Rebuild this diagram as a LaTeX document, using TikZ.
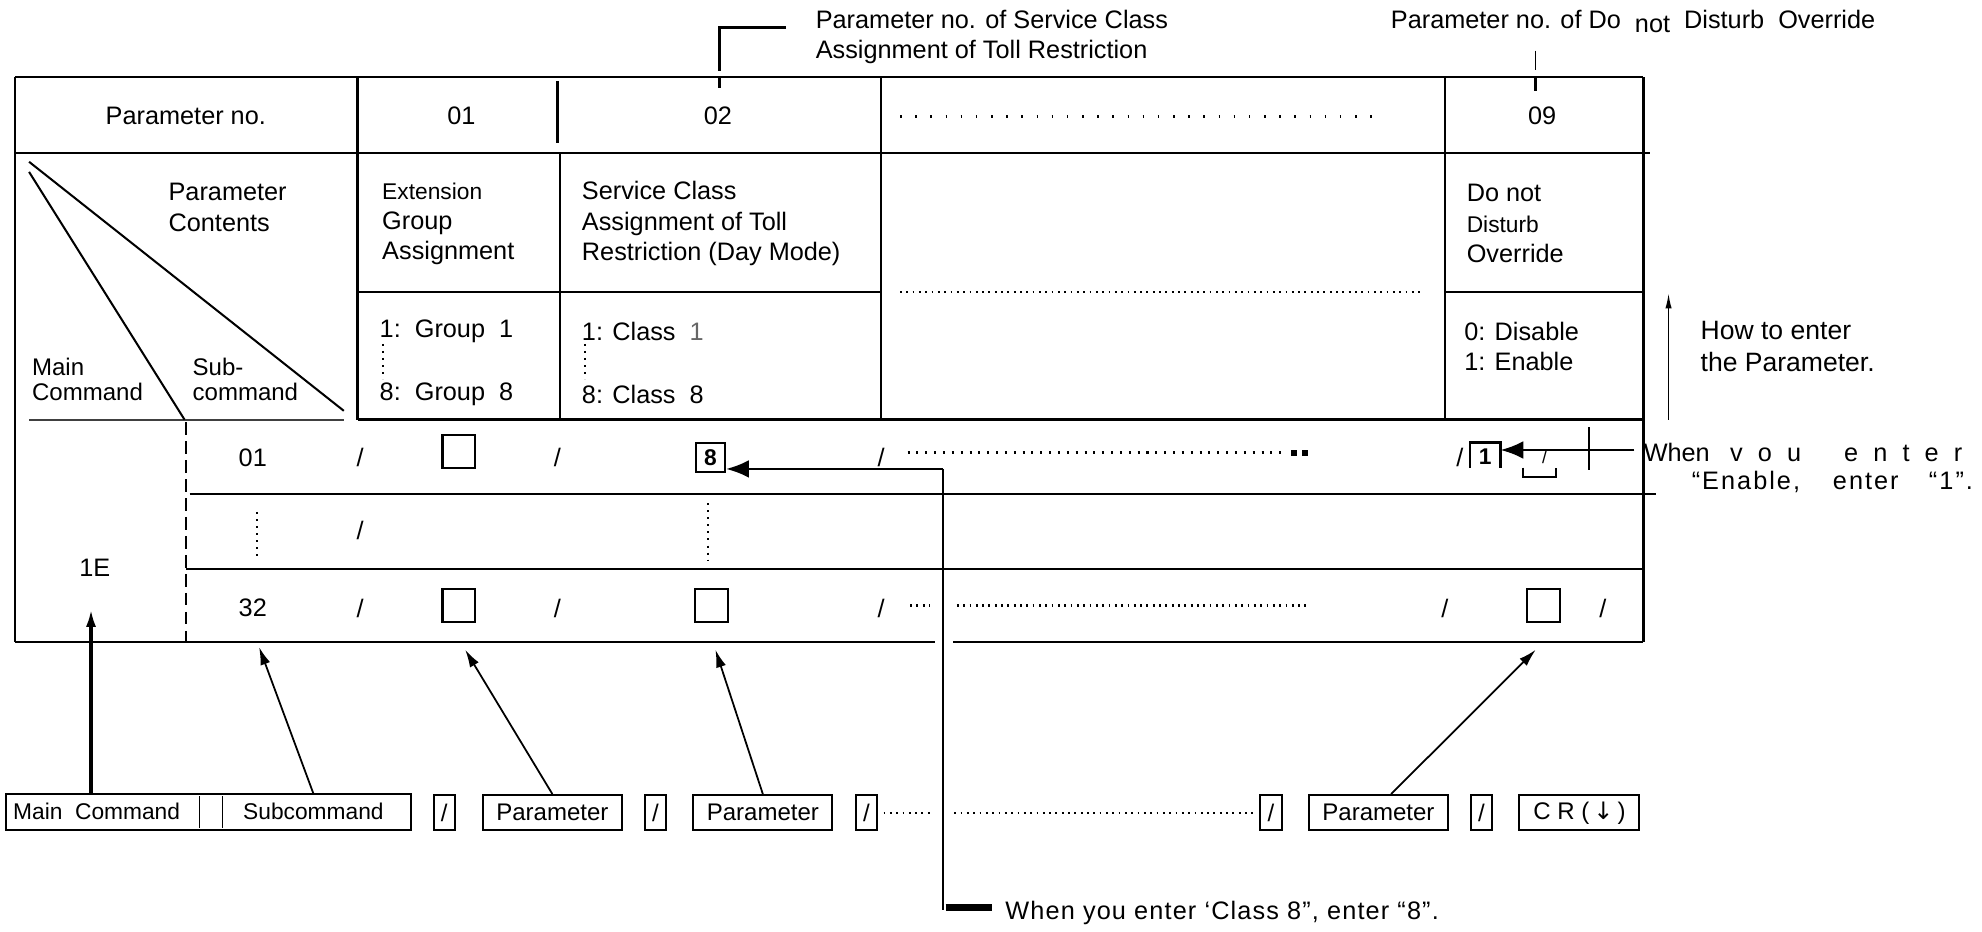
\documentclass[tikz,border=0pt]{standalone}
\usepackage{fontspec}
\setmainfont{Liberation Sans}
\newfontfamily\arrowfont{DejaVu Sans}
\usetikzlibrary{arrows.meta}
\tikzset{
  rule/.style={line width=1pt},
  txt/.style={anchor=west, inner sep=0pt, align=left},
  small/.style={font=\fontsize{9}{12}\selectfont},
  cmdbox/.style={draw, line width=0.8pt, minimum height=14pt, inner sep=0pt, font=\fontsize{9.5}{12}\selectfont},
  entrybox/.style={draw, line width=0.9pt, minimum width=13pt, minimum height=13pt, inner sep=0pt},
  ptr/.style={line width=0.7pt, -{Latex[length=7pt,width=4pt]}},
  fewdots/.style={line width=1pt, dash pattern=on 0.6pt off 5.4pt},
  manydots/.style={line width=0.9pt, dash pattern=on 0.7pt off 1.8pt}
}
\begin{document}
\begin{tikzpicture}[x=0.5pt,y=-0.5pt,font=\fontsize{10}{12}\selectfont]
\useasboundingbox (0,0) rectangle (1568,737);

\draw[rule] (12,61) -- (1300,61);
\draw[rule] (12,61) -- (12,508);
\draw[rule] (1300,61) -- (1300,508);
\draw[rule] (12,121) -- (1305,121);
\draw[rule] (283,231) -- (697,231);
\draw[rule] (1143,231) -- (1300,231);
\draw[rule] (283,332) -- (1300,332);
\draw[line width=0.8pt, black!75] (23,332) -- (272,332);
\draw[rule] (150,391) -- (1310,391);
\draw[rule] (147,450) -- (1300,450);
\draw[rule] (12,508) -- (740,508);
\draw[rule] (754,508) -- (1300,508);
\foreach \x in {283,697,1143}{
\draw[rule] (\x,61) -- (\x,332);
}
\draw[rule] (441,64) -- (441,113);
\draw[rule] (443,121) -- (443,332);
\draw[rule, dash pattern=on 5pt off 2.5pt] (147,334) -- (147,508);

\draw[line width=0.8pt] (23,128) -- (272,325);
\draw[line width=0.8pt] (23,136) -- (146,332);
\node[txt] (contents) at (133,164) {Parameter\\Contents};
\node[txt, font=\fontsize{9.5}{10}\selectfont] (maincol) at (25,300) {Main\\Command};
\node[txt, font=\fontsize{9.5}{10}\selectfont] (subcol) at (152,300) {Sub-\\command};

\node (hdr) at (147,92) {Parameter no.};
\node (p01) at (365,92) {01};
\node (p02) at (568,92) {02};
\node (p09) at (1220,92) {09};
\draw[fewdots] (712,92) -- (1095,92);

\node[txt] (ext) at (302,177) {{\fontsize{9}{12}\selectfont Extension}\\Group\\Assignment};
\node[txt] (svc) at (460,177) {Service Class\\Assignment of Toll\\Restriction (Day Mode)};
\node[txt] (dnd) at (1160,177) {Do not\\{\fontsize{9}{12}\selectfont Disturb}\\Override};
\draw[manydots] (712,231) -- (1125,231);

\node[txt] (g1) at (300,262) {1:\ \ Group\ \ 1};
\node[txt] (g8) at (300,312) {8:\ \ Group\ \ 8};
\draw[dotted, line width=0.8pt] (303,272) -- (303,300);
\node[txt] (c1) at (460,262) {1: Class\ \ {\color{black!60}1}};
\node[txt] (c8) at (460,312) {8: Class\ \ 8};
\draw[dotted, line width=0.8pt] (463,272) -- (463,300);
\node[txt] (dis) at (1158,274) {0: Disable\\1: Enable};

\node (main1e) at (75,449) {1E};

\node (r01) at (200,362) {01};
\foreach \x in {285,441,697,1155}{
\node at (\x,362) {/};
}
\node[entrybox] (box01) at (363,357) {};
\node[entrybox, minimum width=11.5pt, minimum height=11.5pt, small] (eight) at (562,362) {\textbf{8}};
\draw[line width=1pt, dash pattern=on 0.8pt off 2.7pt] (718,358) -- (1015,358);
\fill (1021,356) rectangle (1026,361);
\fill (1030,356) rectangle (1035,361);
\draw[line width=1pt] (1163,370) -- (1163,350) -- (1187,350) -- (1187,370);
\node[small] (one) at (1175,361) {\textbf{1}};
\node[font=\fontsize{7}{8}\selectfont] (slone) at (1222,362) {/};
\draw[line width=0.8pt] (1205,370) -- (1205,377) -- (1231,377) -- (1231,370);
\draw[line width=1pt] (1257,338) -- (1257,372);
\coordinate (enter1) at (1293,356);
\draw[line width=1pt, -{Latex[length=9pt,width=7pt]}] (enter1) -- (one.east |- enter1);
\node[txt] (when1) at (1300,358) {When\hspace{8pt}v\hspace{6pt}o\hspace{6pt}u\hspace{17pt}e\hspace{6pt}n\hspace{6pt}t\hspace{6pt}e\hspace{6pt}r};
\node[txt] (when2) at (1338,381) {\addfontfeature{LetterSpace=8}“Enable,\hspace{13pt}enter\hspace{12pt}“1”.};

\draw[dotted, line width=0.8pt] (203,405) -- (203,440);
\node at (285,420) {/};
\draw[dotted, line width=0.8pt] (560,398) -- (560,443);

\node (r32) at (200,481) {32};
\foreach \x in {285,441,697,1143,1268}{
\node at (\x,481) {/};
}
\node[entrybox] (box32a) at (363,479) {};
\node[entrybox] (box32b) at (563,479) {};
\node[entrybox] (box32c) at (1221,479) {};
\draw[manydots] (720,479) -- (736,479);
\draw[manydots] (757,479) -- (1035,479);

\coordinate (bend8) at (746,371);
\coordinate (foot8) at (746,720);
\draw[line width=1pt, -{Latex[length=9pt,width=7pt]}] (bend8) -- (eight.east |- bend8);
\draw[line width=1pt] (bend8) -- (foot8);
\draw[line width=2.5pt] (748,718) -- (785,718);
\node[txt] (note8) at (795,722) {\addfontfeature{LetterSpace=4.5}When you enter ‘Class 8”, enter “8”.};

\draw[line width=0.6pt, -{Latex[length=6pt,width=2.5pt]}] (1320,332) -- (1320,232);
\node[txt, font=\fontsize{10.5}{12.5}\selectfont] (howto) at (1345,274) {How to enter\\the Parameter.};

\node[txt] (top02) at (645,29) {Parameter no. of Service Class\\Assignment of Toll Restriction};
\draw[line width=1.1pt] (622,22) -- (569,22) -- (569,56);
\draw[line width=1pt] (569,61) -- (569,70);
\node[txt] (top09) at (1100,17) {Parameter no. of Do\ \ \raisebox{-1.5pt}{not}\ \ Disturb\ \ Override};
\draw[line width=0.5pt] (1215,40) -- (1215,55);
\draw[line width=1.2pt] (1215,61) -- (1215,72);

\draw[line width=0.8pt] (5,628) rectangle (325,657);
\draw[line width=0.6pt] (158,630) -- (158,655);
\draw[line width=0.6pt] (176,630) -- (176,655);
\node[txt, small] (maincmd) at (10,642) {Main\ \ Command};
\node[txt, small] (subcmd) at (192,642) {Subcommand};
\node[cmdbox, minimum width=8.5pt] (sl1) at (351.5,643) {/};
\node[cmdbox, minimum width=55pt] (par1) at (437,643) {Parameter};
\node[cmdbox, minimum width=8.5pt] (sl2) at (518.5,643) {/};
\node[cmdbox, minimum width=55pt] (par2) at (603.5,643) {Parameter};
\node[cmdbox, minimum width=8.5pt] (sl3) at (685.5,643) {/};
\draw[manydots] (699,643) -- (738,643);
\draw[manydots] (755,643) -- (992,643);
\node[cmdbox, minimum width=8.5pt] (sl4) at (1005.5,643) {/};
\node[cmdbox, minimum width=55pt] (par3) at (1090.5,643) {Parameter};
\node[cmdbox, minimum width=8.5pt] (sl5) at (1172,643) {/};
\node[cmdbox, minimum width=47.5pt] (cr) at (1249.5,643) {C\ R\ (\,{\arrowfont ↓}\,)};

\coordinate (tipmain) at (72,482);
\coordinate (tipsub) at (205,512);
\coordinate (tippar1) at (368,514);
\coordinate (tippar2) at (566,514);
\coordinate (tippar3) at (1215,514);
\draw[ptr, line width=1.3pt] (tipmain |- 0,628) -- (tipmain);
\draw[ptr] (248,628) -- (tipsub);
\draw[ptr] (par1.north) -- (tippar1);
\draw[ptr] (par2.north) -- (tippar2);
\draw[ptr] ([xshift=5pt]par3.north) -- (tippar3);
\end{tikzpicture}
\end{document}
